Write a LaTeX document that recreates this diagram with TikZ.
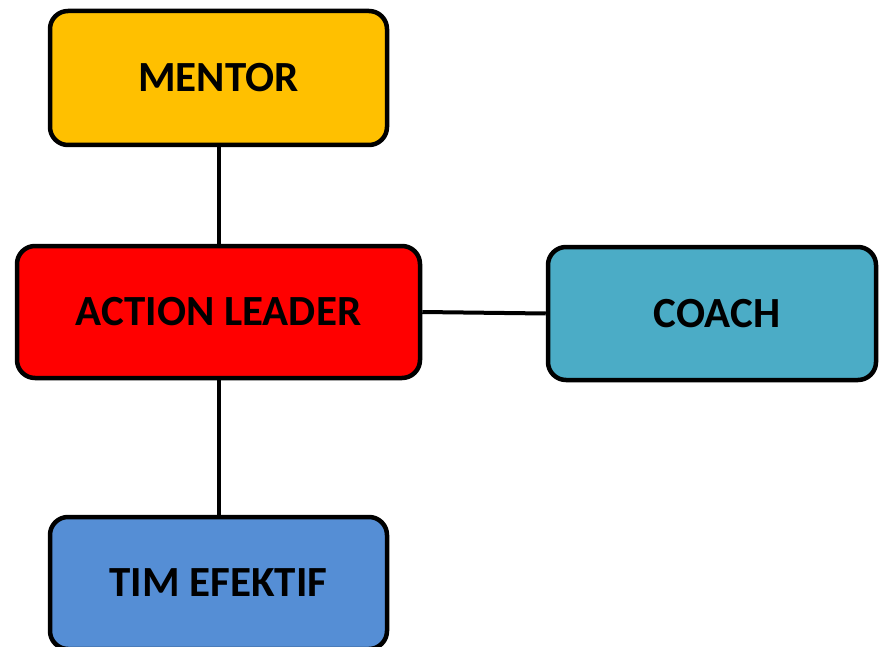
\documentclass[tikz,border=0pt]{standalone}
\usepackage{fontspec}
\setmainfont{Carlito}
\definecolor{cMentor}{HTML}{FFC000}
\definecolor{cLeader}{HTML}{FF0000}
\definecolor{cCoach}{HTML}{4BACC6}
\definecolor{cTim}{HTML}{558ED5}
\begin{document}
\begin{tikzpicture}[x=1pt,y=-1pt,
  box/.style={draw=black, line width=4.5pt, rounded corners=18pt, inner sep=0pt,
    font=\fontsize{43}{50}\selectfont\bfseries, text=black},
  link/.style={draw=black, line width=4pt}]
\useasboundingbox (0,0) rectangle (880,647);
\node[box, fill=cMentor, minimum width=337pt, minimum height=134pt] (mentor) at (218.5,78) {MENTOR};
\node[box, fill=cLeader, minimum width=403pt, minimum height=132pt] (leader) at (218.5,312) {ACTION LEADER};
\node[box, fill=cCoach, minimum width=328pt, minimum height=133pt] (coach) at (712,313.5) {\hspace*{10pt}COACH};
\node[box, fill=cTim, minimum width=337pt, minimum height=132pt] (tim) at (218.5,583) {TIM EFEKTIF};
\draw[link] (mentor.south) -- (leader.north);
\draw[link] (leader.east) -- (coach.west);
\draw[link] (leader.south) -- (tim.north);
\end{tikzpicture}
\end{document}
